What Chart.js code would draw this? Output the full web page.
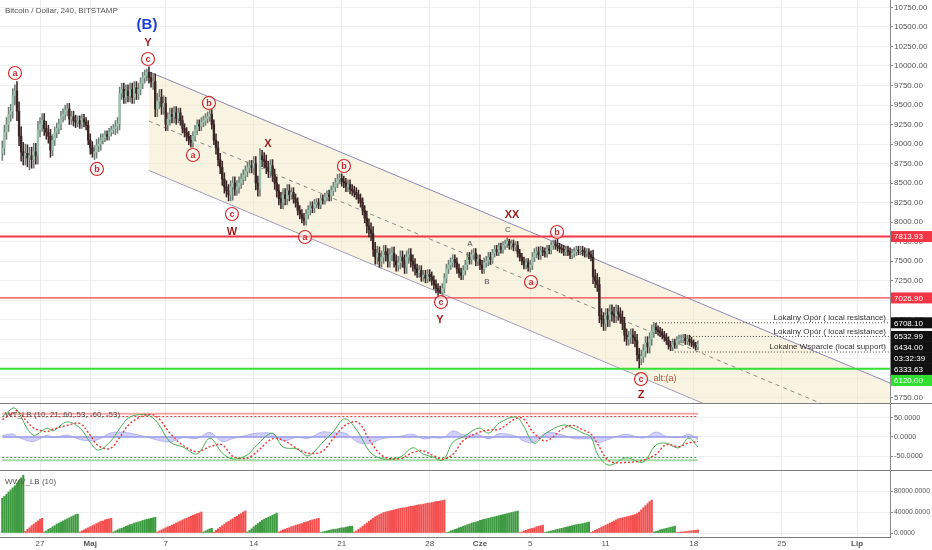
<!DOCTYPE html>
<html>
<head>
<meta charset="utf-8">
<script src="https://cdn.jsdelivr.net/npm/chart.js@4.4.1/dist/chart.umd.min.js"></script>
<style>
  html, body { margin: 0; padding: 0; background: #fff; }
  #wrap { position: relative; width: 932px; height: 550px; overflow: hidden; }
  #wrap canvas { position: absolute; left: 0; }
  .sep { position: absolute; left: 0; width: 932px; height: 1px; background: #7d7d7d; }
  .axisline { position: absolute; left: 890px; top: 0; width: 1px; height: 537px; background: #8a8a8a; }
</style>
</head>
<body>
<div id="wrap">
  <canvas id="main" width="932" height="403" style="top:0"></canvas>
  <canvas id="osc" width="932" height="67" style="top:403px"></canvas>
  <canvas id="wwv" width="932" height="80" style="top:470px"></canvas>
  <div class="sep" style="top:403px"></div>
  <div class="sep" style="top:470px"></div>
  <div class="sep" style="top:537px;width:891px"></div>
  <div class="axisline"></div>
</div>
<script>
// BTC/USD 4h, czas w dniach od 24 kwietnia 00:00 (jedna świeca = 1/6 dnia)
const firstOpen = 8880;
const closes = [
  8950, 9150, 9250, 9380, 9420, 9620,   // 24 kwi
  9680, 9420, 9100, 8900, 8850, 8880,   // 25
  8820, 8850, 8800, 8900, 8850, 9180,   // 26
  9250, 9300, 9200, 9150, 9100, 8920,   // 27
  9050, 9150, 9200, 9250, 9350, 9380,   // 28
  9430, 9450, 9320, 9350, 9300, 9280,   // 29
  9300, 9260, 9320, 9280, 9240, 9050,   // 30
  8950, 8880, 8900, 8980, 9000, 9050,   // 1 maj
  9080, 9120, 9100, 9150, 9180, 9200,
  9220, 9260, 9650, 9700, 9600, 9680,
  9620, 9700, 9600, 9720, 9650, 9700,
  9780, 9850, 9880, 9920, 9850, 9800,
  9800, 9450, 9550, 9600, 9480, 9520,
  9250, 9320, 9380, 9350, 9400, 9330,   // 7 maj
  9400, 9300, 9200, 9150, 9100, 9050,
  9020, 9100, 9180, 9250, 9230, 9280,
  9300, 9330, 9350, 9380, 9250, 9050,
  8950, 8800, 8700, 8550, 8450, 8400,
  8350, 8450, 8500, 8420, 8450, 8500,
  8550, 8600, 8650, 8700, 8720, 8700,
  8750, 8500, 8420, 8850, 8800, 8780,   // 14 maj
  8700, 8650, 8720, 8600, 8500, 8400,
  8300, 8250, 8350, 8300, 8400, 8350,
  8380, 8300, 8250, 8150, 8100, 8050,
  8020, 8100, 8150, 8200, 8180, 8230,
  8250, 8220, 8300, 8280, 8320, 8350,
  8330, 8400, 8450, 8500, 8550, 8560,
  8520, 8500, 8450, 8480, 8420, 8400,   // 21 maj
  8380, 8350, 8300, 8250, 8150, 8050,
  7950, 7900, 7850, 7650, 7550, 7600,
  7500, 7550, 7620, 7580, 7500, 7580,
  7600, 7500, 7450, 7480, 7550, 7500,
  7420, 7550, 7580, 7500, 7450, 7400,
  7350, 7380, 7300, 7320, 7280, 7330,
  7300, 7250, 7200, 7150, 7120, 7100,   // 28 maj
  7150, 7280, 7400, 7450, 7480, 7520,
  7480, 7400, 7350, 7320, 7380, 7450,
  7550, 7520, 7580, 7600, 7500, 7520,
  7450, 7400, 7480, 7500, 7550, 7520,   // 1 cze
  7600, 7650, 7620, 7680, 7650, 7700,
  7720, 7750, 7700, 7720, 7680, 7700,
  7600, 7550, 7500, 7450, 7480, 7420,
  7450, 7550, 7600, 7620, 7580, 7630,   // 5 cze
  7620, 7600, 7650, 7640, 7700, 7720,
  7700, 7680, 7660, 7650, 7620, 7640,
  7620, 7580, 7600, 7620, 7640, 7630,
  7640, 7620, 7600, 7610, 7580, 7550,
  7300, 7250, 7200, 6800, 6750, 6700,
  6800, 6750, 6850, 6820, 6800, 6850,   // 11 cze
  6820, 6780, 6700, 6550, 6500, 6520,
  6550, 6520, 6480, 6300, 6250, 6280,
  6350, 6450, 6400, 6500, 6600, 6650,
  6620, 6600, 6580, 6550, 6520, 6480,
  6420, 6400, 6450, 6430, 6480, 6500,
  6500, 6510, 6480, 6500, 6470, 6450,
  6420, 6400, 6434                      // 18 cze
];
// typowa długość knota w danym dniu
const dayWick = [90, 120, 110, 90, 70, 70, 60, 80, 50, 80, 80, 70, 100, 80, 60, 60, 60, 80, 80, 70,
  90, 80, 80, 60, 60, 50, 60, 60, 60, 90, 80, 80, 80, 60, 60, 60, 60, 60, 60, 50,
  50, 50, 60, 50, 50, 50, 50, 90, 90, 80, 80, 80, 50, 50, 50, 40];
// skrajne knoty: [świeca, 'h' lub 'l', cena]
const spikes = [[6, 'h', 9760], [13, 'l', 8670], [43, 'l', 8830], [69, 'h', 9960], [110, 'l', 8280],
  [124, 'h', 8920], [144, 'l', 7960], [163, 'h', 8590], [209, 'l', 7080], [242, 'h', 7780],
  [265, 'h', 7780], [304, 'l', 6130], [311, 'h', 6708]];

// osie
const xTickDays = [3, 7, 13, 20, 27, 34, 38, 42, 48, 55, 62, 68];
const xTickLabels = ['27', 'Maj', '7', '14', '21', '28', 'Cze', '5', '11', '18', '25', 'Lip'];
const monthLabels = ['Maj', 'Cze', 'Lip'];
const priceTicks = [5750, 6000, 6250, 6500, 6750, 7000, 7250, 7500, 7750, 8000, 8250, 8500,
  8750, 9000, 9250, 9500, 9750, 10000, 10250, 10500, 10750];
const oscTicks = [50, 0, -50];
const wwvTicks = [80000, 40000, 0];

// kanał spadkowy: [dzień, cena]
const channelUpper = [[11.66, 9928], [70.62, 5936]];
const channelMid = [[11.66, 9295], [70.62, 5303]];
const channelLower = [[11.66, 8662], [70.62, 4670]];

// poziomy
const redLevels = [7813.93, 7026.90];
const greenLevel = 6120.00;
const localLevels = [[6708.10, 51.77, 'Lokalny Opór ( local resistance)'],
  [6532.99, 54.7, 'Lokalny Opór ( local resistance)'],
  [6333.63, 53.5, 'Lokalne Wsparcie (local support)']];
const lastPrice = 6434.00;
const countdown = '03:32:39';

// fale Elliotta: [dzień, cena, tekst, rodzaj]
const waveLabels = [
  [1.01, 9910, 'a', 'c'], [7.53, 8680, 'b', 'c'], [11.59, 10090, 'c', 'c'], [11.59, 10295, 'Y', 'big'],
  [11.51, 10525, '(B)', 'blue'], [16.44, 9526, 'b', 'c'], [15.17, 8859, 'a', 'c'], [18.27, 8103, 'c', 'c'],
  [18.27, 7872, 'W', 'big'], [21.14, 9000, 'X', 'big'], [27.18, 8718, 'b', 'c'], [24.08, 7808, 'a', 'c'],
  [40.55, 8090, 'XX', 'big'], [40.23, 7898, 'C', 'grey'], [37.21, 7718, 'A', 'grey'], [38.56, 7231, 'B', 'grey'],
  [42.06, 7231, 'a', 'c'], [44.13, 7872, 'b', 'c'], [34.90, 6974, 'c', 'c'], [34.82, 6744, 'Y', 'big'],
  [50.81, 5987, 'c', 'c'], [50.81, 5782, 'Z', 'big'], [52.72, 6000, 'alt:(a)', 'alt']
];

// WT_LB: próbki w dniach
const oscDays = [0.0, 0.85, 1.17, 2.44, 3.56, 4.03, 5.15, 6.18, 6.98, 7.61, 8.57, 9.36, 10.16, 11.51, 12.31,
  13.34, 14.38, 15.49, 16.52, 17.48, 18.35, 19.47, 20.26, 21.46, 22.33, 23.45, 24.32, 25.43, 26.31, 27.26,
  28.30, 29.25, 30.29, 31.64, 32.67, 33.47, 34.27, 35.06, 35.86, 36.65, 37.92, 38.72, 39.52, 40.87, 41.43,
  42.30, 43.26, 44.61, 45.40, 46.20, 46.83, 47.39, 48.27, 49.62, 50.97, 52.00, 52.80, 53.83, 54.62, 55.34];
const wt1 = [52, 75, 70, 5, 23, 16, 39, 23, -13, -34, -13, 23, 52, 57, 39,
  -13, -26, -44, -3, -41, -57, -47, -21, 10, -26, -31, -49, -16, 13, 47,
  13, -39, -57, -52, -28, -44, -52, -60, -13, 0, 23, 10, 36, 52, 31,
  -16, 10, 31, 23, 10, 0, -47, -73, -54, -65, -21, -16, -28, -3, -26];
const wt2 = [45, 62, 68, 25, 14, 20, 30, 35, 5, -22, -30, 0, 35, 58, 52,
  10, -22, -38, -25, -20, -50, -55, -38, -5, -8, -30, -42, -38, -5, 30,
  38, -10, -50, -56, -40, -36, -48, -57, -45, -10, 12, 18, 20, 48, 48,
  10, -10, 22, 30, 18, 8, -20, -62, -66, -60, -45, -20, -25, -15, -12];
const wtDiff = [4, 8, 1, -12, 5, -2, 5, -7, -10, -7, 10, 13, 10, 0, -8,
  -13, -2, -4, 12, -12, -4, 5, 10, 9, -10, -1, -4, 13, 11, 10,
  -14, -16, -4, 2, 7, -5, -2, -2, 16, 6, 6, -5, 9, 2, -10,
  -14, 11, 5, -4, -5, -5, -15, -6, 7, -3, 13, 2, -2, 7, -8];
const wtLevels = [60, 53, -53, -60];

// WWV_LB (w tysiącach), serie kolorów: [1 = zielony / 0 = czerwony, liczba słupków]
const wwvRuns = [[1, 11], [0, 9], [1, 17], [0, 16], [1, 21], [0, 22], [1, 5], [0, 16], [1, 15],
  [0, 20], [1, 16], [0, 44], [1, 35], [0, 12], [1, 22], [0, 30], [1, 11], [0, 11]];
const wwvK = [
  66, 70, 74, 78, 82, 86, 90, 95, 100, 105, 110,
  3, 7, 10, 14, 17, 20, 23, 26, 28,
  2, 4, 7, 9, 12, 14, 17, 19, 21, 23, 25, 27, 29, 31, 33, 35, 36,
  2, 4, 6, 8, 10, 12, 14, 16, 18, 20, 22, 23, 25, 26, 27, 28,
  2, 4, 6, 8, 9, 11, 13, 14, 16, 17, 19, 20, 21, 22, 24, 25, 26, 27, 28, 29, 30,
  2, 4, 6, 8, 10, 12, 13, 15, 17, 19, 21, 23, 25, 27, 28, 30, 32, 34, 35, 37, 38, 40,
  2, 4, 6, 8, 9,
  2, 5, 8, 11, 14, 17, 20, 22, 25, 27, 30, 32, 35, 37, 40, 42,
  2, 5, 8, 12, 15, 18, 21, 24, 26, 28, 30, 32, 34, 36, 38,
  2, 4, 6, 7, 9, 10, 12, 13, 15, 16, 17, 18, 20, 21, 22, 24, 25, 26, 27, 28,
  1, 2, 3, 4, 5, 6, 7, 7, 8, 9, 10, 10, 11, 12, 13, 13,
  2, 4, 7, 10, 13, 16, 19, 22, 25, 28, 31, 33, 35, 37, 39, 40, 41, 42, 43, 44, 45, 46,
  47, 48, 48, 49, 50, 51, 51, 52, 53, 54, 54, 55, 56, 57, 57, 58, 59, 60, 60, 61, 62, 63,
  1, 2, 4, 5, 7, 8, 10, 11, 13, 14, 16, 17, 19, 20, 21, 22, 24, 25, 26, 27, 28, 29, 30, 31,
  32, 33, 34, 35, 36, 37, 38, 39, 40, 41, 42,
  1, 2, 4, 5, 7, 8, 9, 10, 12, 13, 14, 15,
  1, 2, 3, 4, 5, 6, 7, 8, 9, 10, 11, 12, 13, 14, 15, 16, 17, 17, 18, 19, 20, 21,
  1, 3, 5, 7, 9, 11, 13, 15, 17, 19, 21, 23, 25, 27, 28, 29, 30, 31, 32, 33, 34, 35, 37, 40, 44, 48, 52, 56, 60, 63,
  2, 3, 4, 6, 7, 8, 9, 10, 11, 12, 13,
  1, 1, 2, 2, 3, 3, 4, 4, 5, 5, 6
];

// ---- budowa świec ----
const candleDays = closes.map((c, i) => i / 6);
const opens = closes.map((c, i) => i === 0 ? firstOpen : closes[i - 1]);
const highs = closes.map((c, i) => Math.max(opens[i], c) + dayWick[Math.floor(i / 6)]);
const lows = closes.map((c, i) => Math.min(opens[i], c) - dayWick[Math.floor(i / 6)]);
spikes.forEach(([i, k, p]) => { if (k === 'h') highs[i] = p; else lows[i] = p; });
const isUp = closes.map((c, i) => c >= opens[i]);

const wwvUp = [];
wwvRuns.forEach(([up, n]) => { for (let j = 0; j < n; j++) wwvUp.push(up === 1); });

const X_MIN = -0.183, X_MAX = 70.62;
const FONT = 'Liberation Sans, Arial, sans-serif';
const lastDay = candleDays[candleDays.length - 1];

function pts(arr) { return arr.map(([x, y]) => ({ x, y })); }
function hline(v, from, to) { return [{ x: from, y: v }, { x: to, y: v }]; }

function xScale(showLabels) {
  return {
    type: 'linear', min: X_MIN, max: X_MAX, offset: false,
    afterBuildTicks: s => { s.ticks = xTickDays.map(v => ({ value: v })); },
    afterFit: s => { s.height = showLabels ? 13 : 0; s.paddingLeft = 0; s.paddingRight = 0; },
    grid: { color: '#ececee', drawTicks: false, offset: false },
    border: { display: false },
    ticks: {
      display: showLabels, padding: 2, color: '#555', autoSkip: false, maxRotation: 0,
      font: ctx => ({ family: FONT, size: 8, weight: ctx.tick && monthLabels.includes(xTickLabels[xTickDays.indexOf(ctx.tick.value)]) ? 'bold' : 'normal' }),
      callback: v => xTickLabels[xTickDays.indexOf(v)]
    }
  };
}
function yScale(min, max, ticks, fmt, size) {
  return {
    position: 'right', min, max,
    afterBuildTicks: s => { s.ticks = ticks.map(v => ({ value: v })); },
    afterFit: s => { s.width = 42; s.paddingTop = 0; s.paddingBottom = 0; },
    grid: { color: '#eef0f2', tickLength: 3, tickColor: '#8a8a8a' },
    border: { display: false },
    ticks: { color: '#555', padding: 1, font: { family: FONT, size: size }, callback: fmt }
  };
}

// ---- wtyczki do tekstu ----
const overlayMain = {
  id: 'overlayMain',
  afterDatasetsDraw(chart) {
    const { ctx, scales: { x, y }, chartArea } = chart;
    ctx.save();
    ctx.font = '8px ' + FONT;
    ctx.fillStyle = '#555';
    ctx.textAlign = 'left'; ctx.textBaseline = 'middle';
    ctx.fillText('Bitcoin / Dollar, 240, BITSTAMP', 5, 11);
    // opisy lokalnych poziomów
    ctx.fillStyle = '#333';
    ctx.textAlign = 'right'; ctx.textBaseline = 'bottom';
    localLevels.forEach(([v, , t]) => ctx.fillText(t, chartArea.right - 4, y.getPixelForValue(v) - 1));
    // fale
    waveLabels.forEach(([d, p, t, kind]) => {
      const px = x.getPixelForValue(d), py = y.getPixelForValue(p);
      ctx.textAlign = 'center'; ctx.textBaseline = 'middle';
      if (kind === 'c') {
        ctx.beginPath(); ctx.arc(px, py, 6.5, 0, Math.PI * 2);
        ctx.fillStyle = 'rgba(255,255,255,0.55)'; ctx.fill();
        ctx.strokeStyle = '#d32f2f'; ctx.lineWidth = 1.2; ctx.stroke();
        ctx.fillStyle = '#c62828'; ctx.font = 'bold 9px ' + FONT;
        ctx.fillText(t, px, py + 0.5);
      } else if (kind === 'big') {
        ctx.fillStyle = '#9e1b1b'; ctx.font = 'bold 11px ' + FONT;
        ctx.fillText(t, px, py);
      } else if (kind === 'blue') {
        ctx.fillStyle = '#1a3fd6'; ctx.font = 'bold 15px ' + FONT;
        ctx.fillText(t, px, py);
      } else if (kind === 'grey') {
        ctx.fillStyle = '#555'; ctx.font = '8px ' + FONT;
        ctx.fillText(t, px, py);
      } else {
        ctx.fillStyle = '#b5523a'; ctx.font = '9px ' + FONT;
        ctx.fillText(t, px, py);
      }
    });
    ctx.restore();
  },
  afterDraw(chart) {
    const { ctx, scales: { y }, chartArea } = chart;
    const tags = [
      [redLevels[0], redLevels[0].toFixed(2), '#f23645'],
      [redLevels[1], redLevels[1].toFixed(2), '#f23645'],
      [localLevels[0][0], localLevels[0][0].toFixed(2), '#111'],
      [localLevels[1][0], localLevels[1][0].toFixed(2), '#111'],
      [lastPrice, lastPrice.toFixed(2), '#111'],
      [lastPrice, countdown, '#111'],
      [localLevels[2][0], localLevels[2][0].toFixed(2), '#111'],
      [greenLevel, greenLevel.toFixed(2), '#2fe02f']
    ];
    ctx.save();
    ctx.font = '8px ' + FONT;
    ctx.textAlign = 'left'; ctx.textBaseline = 'middle';
    let prev = -100;
    tags.forEach(([v, t, bg]) => {
      const py = Math.max(y.getPixelForValue(v), prev + 11);
      prev = py;
      ctx.fillStyle = bg;
      ctx.fillRect(chartArea.right + 1, py - 5.5, 41, 11);
      ctx.fillStyle = '#fff';
      ctx.fillText(t, chartArea.right + 4, py + 0.5);
    });
    ctx.restore();
  }
};
function panelTitle(text) {
  return {
    id: 'title_' + text.length,
    afterDatasetsDraw(chart) {
      const { ctx } = chart;
      ctx.save();
      ctx.font = '8px ' + FONT; ctx.fillStyle = '#555';
      ctx.textAlign = 'left'; ctx.textBaseline = 'middle';
      ctx.fillText(text, 5, 12);
      ctx.restore();
    }
  };
}

const common = {
  responsive: false, animation: false, events: [],
  layout: { padding: 0 },
  plugins: { legend: { display: false }, tooltip: { enabled: false } }
};

// ---- panel cenowy ----
const lineStyle = { type: 'line', pointRadius: 0, tension: 0, fill: false };
new Chart(document.getElementById('main'), {
  type: 'bar',
  data: {
    datasets: [
      { ...lineStyle, data: pts(channelUpper), borderColor: '#8d88b8', borderWidth: 1,
        fill: { target: 1 }, backgroundColor: 'rgba(243,232,196,0.5)', order: 20 },
      { ...lineStyle, data: pts(channelLower), borderColor: '#8d88b8', borderWidth: 1, order: 20 },
      { ...lineStyle, data: pts(channelMid), borderColor: '#8a8a8a', borderWidth: 1, borderDash: [4, 4], order: 19 },
      { ...lineStyle, data: hline(redLevels[0], X_MIN, X_MAX), borderColor: '#f23645', borderWidth: 2, order: 5 },
      { ...lineStyle, data: hline(redLevels[1], X_MIN, X_MAX), borderColor: '#f2454f', borderWidth: 1.3, order: 5 },
      { ...lineStyle, data: hline(greenLevel, X_MIN, X_MAX), borderColor: '#35e035', borderWidth: 2, order: 5 },
      ...localLevels.map(([v, from]) => ({ ...lineStyle, data: hline(v, from, X_MAX),
        borderColor: '#444', borderWidth: 1, borderDash: [1, 2], order: 5 })),
      { type: 'bar', grouped: false, barThickness: 0.9, order: 2,
        data: candleDays.map((d, i) => ({ x: d, y: [lows[i], highs[i]] })),
        backgroundColor: candleDays.map((d, i) => isUp[i] ? '#6f7d76' : '#3a2424') },
      { type: 'bar', grouped: false, barThickness: 1.7, order: 1,
        data: candleDays.map((d, i) => ({ x: d, y: [opens[i], closes[i]] })),
        backgroundColor: candleDays.map((d, i) => isUp[i] ? '#99c1ab' : '#3a2424') }
    ]
  },
  options: {
    ...common,
    scales: {
      x: xScale(false),
      y: yScale(5680, 10846, priceTicks, v => v.toFixed(2), 8)
    }
  },
  plugins: [overlayMain]
});

// ---- WT_LB ----
const oscPts = arr => oscDays.map((d, i) => ({ x: d, y: arr[i] }));
new Chart(document.getElementById('osc'), {
  type: 'line',
  data: {
    datasets: [
      { data: oscPts(wtDiff), borderColor: 'rgba(120,120,230,0.7)', borderWidth: 0.6,
        backgroundColor: 'rgba(150,150,240,0.45)', fill: 'origin', pointRadius: 0, tension: 0.35, order: 9 },
      { data: hline(0, 0, lastDay), borderColor: '#9a9ae6', borderWidth: 1.5, pointRadius: 0, order: 8 },
      { data: hline(wtLevels[0], 0, lastDay), borderColor: 'rgba(242,80,80,0.5)', borderWidth: 2, pointRadius: 0, order: 7 },
      { data: hline(wtLevels[1], 0, lastDay), borderColor: '#e53935', borderWidth: 1, borderDash: [2, 2], pointRadius: 0, order: 7 },
      { data: hline(wtLevels[2], 0, lastDay), borderColor: '#43a047', borderWidth: 1, borderDash: [2, 2], pointRadius: 0, order: 7 },
      { data: hline(wtLevels[3], 0, lastDay), borderColor: 'rgba(76,175,80,0.5)', borderWidth: 2, pointRadius: 0, order: 7 },
      { data: oscPts(wt1), borderColor: '#4caf50', borderWidth: 1, pointRadius: 0, tension: 0.35, order: 2 },
      { data: oscPts(wt2), borderColor: '#e53935', borderWidth: 1.4, borderDash: [2, 2], pointRadius: 0, tension: 0.35, order: 1 }
    ]
  },
  options: {
    ...common,
    scales: {
      x: xScale(false),
      y: yScale(-85.5, 88, oscTicks, v => v.toFixed(4), 7.3)
    }
  },
  plugins: [panelTitle('WT_LB (10, 21, 60, 53, -60, -53)')]
});

// ---- WWV_LB ----
new Chart(document.getElementById('wwv'), {
  type: 'bar',
  data: {
    datasets: [{
      data: candleDays.map((d, i) => ({ x: d, y: wwvK[i] * 1000 })),
      backgroundColor: wwvUp.map(u => u ? '#3f9b41' : '#f4504f'),
      barThickness: 1.5, grouped: false
    }]
  },
  options: {
    ...common,
    scales: {
      x: xScale(true),
      y: yScale(-7600, 120000, wwvTicks, v => v.toFixed(4), 6.8)
    }
  },
  plugins: [panelTitle('WWV_LB (10)')]
});
</script>
</body>
</html>
